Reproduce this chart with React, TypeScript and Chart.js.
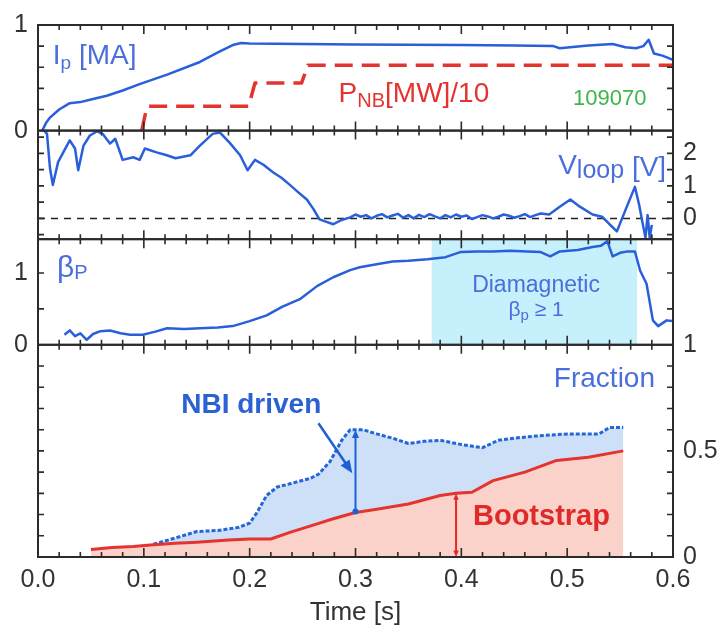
import { useEffect, useRef } from "react";
import { Chart, registerables } from "chart.js";

Chart.register(...registerables);

// ---------- data ----------
const xTickLabels = [0, 0.1, 0.2, 0.3, 0.4, 0.5, 0.6];

const ipTime = [0.004, 0.008, 0.011, 0.02, 0.03, 0.04, 0.052, 0.065, 0.08, 0.096, 0.122, 0.153, 0.17, 0.184, 0.192, 0.2, 0.25, 0.3, 0.35, 0.4, 0.45, 0.487, 0.493, 0.52, 0.543, 0.555, 0.565, 0.572, 0.577, 0.582, 0.59, 0.6];
const ipValue = [0, 0.08, 0.12, 0.2, 0.26, 0.27, 0.3, 0.33, 0.38, 0.44, 0.53, 0.65, 0.74, 0.81, 0.83, 0.825, 0.82, 0.815, 0.812, 0.81, 0.805, 0.8, 0.78, 0.805, 0.82, 0.79, 0.78, 0.8, 0.86, 0.73, 0.71, 0.67];

const pnbTime = [0.098, 0.103, 0.199, 0.205, 0.249, 0.255, 0.6];
const pnbValue = [0, 0.23, 0.23, 0.45, 0.45, 0.62, 0.62];

const vloopTime = [0.006, 0.0085, 0.0113, 0.014, 0.019, 0.025, 0.03, 0.035, 0.038, 0.043, 0.049, 0.056, 0.061, 0.068, 0.073, 0.08, 0.09, 0.096, 0.101, 0.112, 0.121, 0.13, 0.144, 0.153, 0.165, 0.172, 0.181, 0.191, 0.198, 0.205, 0.213, 0.222, 0.23, 0.238, 0.246, 0.254, 0.26, 0.266, 0.272, 0.279, 0.287, 0.295, 0.3, 0.305, 0.31, 0.315, 0.32, 0.325, 0.33, 0.335, 0.34, 0.345, 0.35, 0.355, 0.36, 0.365, 0.37, 0.375, 0.38, 0.385, 0.39, 0.395, 0.4, 0.405, 0.41, 0.415, 0.42, 0.425, 0.43, 0.435, 0.44, 0.445, 0.45, 0.455, 0.46, 0.465, 0.47, 0.475, 0.483, 0.493, 0.503, 0.512, 0.524, 0.533, 0.54, 0.547, 0.556, 0.564, 0.568, 0.571, 0.574, 0.576, 0.578, 0.58];
const vloopValue = [2.7, 2.6, 1.55, 1.03, 1.73, 2.1, 2.4, 2.15, 1.48, 2.24, 2.55, 2.68, 2.6, 2.3, 2.45, 1.8, 1.88, 1.8, 2.15, 2.03, 1.95, 1.85, 1.94, 2.24, 2.6, 2.64, 2.33, 1.94, 1.48, 1.8, 1.65, 1.42, 1.25, 1.03, 0.8, 0.58, 0.3, -0.03, -0.1, -0.18, -0.05, 0.03, 0.12, 0.05, 0.1, 0.0, 0.08, 0.13, 0.03, 0.09, 0.14, 0.02, 0.1, 0.0, 0.11, 0.04, 0.13, 0.06, 0.0, 0.1, 0.03, 0.12, 0.05, 0.09, -0.02, 0.04, 0.1, 0.06, 0.0, 0.05, 0.12, 0.08, 0.02, 0.07, 0.13, 0.04, 0.1, 0.15, 0.12, 0.36, 0.58, 0.36, 0.12, 0.05, -0.18, -0.4, 0.33, 0.97, 0.42, -0.1, -0.6, 0.1, -0.6, -0.2];

const zeroTime = [0, 0.6];
const zeroValue = [0, 0];

const betaTime = [0.025, 0.03, 0.035, 0.04, 0.046, 0.052, 0.059, 0.068, 0.078, 0.087, 0.099, 0.11, 0.122, 0.138, 0.153, 0.17, 0.184, 0.2, 0.216, 0.231, 0.248, 0.264, 0.279, 0.295, 0.304, 0.32, 0.335, 0.35, 0.368, 0.385, 0.399, 0.415, 0.43, 0.446, 0.462, 0.475, 0.484, 0.493, 0.51, 0.524, 0.532, 0.538, 0.543, 0.55, 0.557, 0.564, 0.569, 0.575, 0.581, 0.586, 0.594, 0.599];
const betaValue = [0.14, 0.2, 0.12, 0.16, 0.07, 0.15, 0.19, 0.2, 0.16, 0.14, 0.14, 0.18, 0.23, 0.22, 0.23, 0.24, 0.26, 0.33, 0.41, 0.53, 0.64, 0.82, 0.94, 1.04, 1.08, 1.12, 1.16, 1.17, 1.19, 1.22, 1.29, 1.3, 1.3, 1.31, 1.3, 1.29, 1.23, 1.3, 1.32, 1.36, 1.38, 1.44, 1.23, 1.28, 1.3, 1.3, 1.03, 0.85, 0.34, 0.26, 0.34, 0.33];

const bootTime = [0.05, 0.07, 0.09, 0.109, 0.13, 0.15, 0.18, 0.2, 0.22, 0.238, 0.26, 0.279, 0.3, 0.32, 0.35, 0.38, 0.395, 0.41, 0.43, 0.46, 0.49, 0.52, 0.553];
const bootValue = [0.035, 0.045, 0.05, 0.058, 0.065, 0.07, 0.08, 0.085, 0.085, 0.116, 0.15, 0.18, 0.21, 0.225, 0.25, 0.29, 0.3, 0.305, 0.36, 0.4, 0.455, 0.47, 0.5];

const nbiTime = [0.109, 0.13, 0.15, 0.17, 0.19, 0.2, 0.207, 0.216, 0.226, 0.238, 0.257, 0.265, 0.276, 0.287, 0.295, 0.307, 0.32, 0.335, 0.35, 0.365, 0.38, 0.4, 0.42, 0.435, 0.45, 0.47, 0.5, 0.53, 0.54, 0.553];
const nbiValue = [0.06, 0.09, 0.12, 0.125, 0.14, 0.16, 0.21, 0.29, 0.33, 0.345, 0.37, 0.39, 0.45, 0.55, 0.6, 0.6, 0.58, 0.56, 0.535, 0.545, 0.55, 0.53, 0.515, 0.55, 0.56, 0.57, 0.58, 0.58, 0.61, 0.61];

const diamagStart = 0.372;
const diamagEnd = 0.566;

// tick labels per panel
const p1LeftLabels = [0, 1];
const p3LeftLabels = [0, 1];
const p2RightLabels = [0, 1, 2];
const p4RightLabels = [0, 0.5, 1];
// inner tick marks per panel
const p1Marks = [0.2, 0.4, 0.6, 0.8];
const p2Marks = [-0.5, 0, 0.5, 1, 1.5, 2, 2.5];
const p3Marks = [0.5, 1];
const p4Marks = [0.1, 0.2, 0.3, 0.4, 0.5, 0.6, 0.7, 0.8, 0.9];

// ---------- styles ----------
const FONT = '"Liberation Sans", Arial, Helvetica, sans-serif';
const LINE_BLUE = "#2a5fdb";
const TEXT_BLUE = "#4a6fdc";
const RED = "#e3342f";
const FRAME = "#2b2b2b";
const LABEL = "#333333";

const pts = (t: number[], v: number[]) => t.map((x, i) => ({ x, y: v[i] }));

function yAxis(pos: string, stack: string, weight: number, stackWeight: number, min: number, max: number, labels: number[]) {
  return {
    type: "linear",
    axis: "y",
    position: pos,
    stack,
    stackWeight,
    weight,
    min,
    max,
    offset: false,
    grid: { display: false, drawTicks: false },
    border: { display: false },
    ticks: {
      display: labels.length > 0,
      autoSkip: false,
      font: { family: FONT, size: 25 },
      color: LABEL,
      padding: 10,
      callback: (v: number) => String(v),
    },
    afterBuildTicks: (s: any) => {
      s.ticks = labels.map((v) => ({ value: v }));
    },
    afterFit: (s: any) => {
      s.width = pos === "left" ? 38 : 52;
    },
  };
}

function richText(ctx: CanvasRenderingContext2D, parts: any[], x: number, y: number, align: string, color: string) {
  let w = 0;
  for (const p of parts) {
    ctx.font = `${p[3] || "normal"} ${p[1]}px ${FONT}`;
    w += ctx.measureText(p[0]).width;
  }
  let cx = align === "right" ? x - w : align === "center" ? x - w / 2 : x;
  ctx.fillStyle = color;
  ctx.textAlign = "left";
  ctx.textBaseline = "alphabetic";
  for (const p of parts) {
    ctx.font = `${p[3] || "normal"} ${p[1]}px ${FONT}`;
    ctx.fillText(p[0], cx, y + (p[2] || 0));
    cx += ctx.measureText(p[0]).width;
  }
}

function head(ctx: CanvasRenderingContext2D, x0: number, y0: number, x1: number, y1: number, size: number) {
  const a = Math.atan2(y1 - y0, x1 - x0);
  ctx.beginPath();
  ctx.moveTo(x1, y1);
  ctx.lineTo(x1 - size * Math.cos(a - 0.4), y1 - size * Math.sin(a - 0.4));
  ctx.lineTo(x1 - size * Math.cos(a + 0.4), y1 - size * Math.sin(a + 0.4));
  ctx.closePath();
  ctx.fill();
}

const decorPlugin = {
  id: "decor",
  beforeDatasetsDraw(chart: any) {
    const { ctx, scales } = chart;
    const x = scales.x;
    const y3 = scales.yL3;
    const x0 = x.getPixelForValue(diamagStart);
    const x1 = x.getPixelForValue(diamagEnd);
    ctx.save();
    ctx.fillStyle = "#c6f0fb";
    ctx.fillRect(x0, y3.top, x1 - x0, y3.bottom - y3.top);
    ctx.restore();
  },
  afterDatasetsDraw(chart: any) {
    const { ctx, scales, chartArea } = chart;
    const x = scales.x;
    const px = (t: number) => x.getPixelForValue(t);
    const y1 = scales.yL1, y2 = scales.yL2, y3 = scales.yL3, y4 = scales.yL4;
    ctx.save();

    // annotation texts
    richText(ctx, [["I", 28], ["p", 19, 5], [" [MA]", 28]], px(0.014), y1.getPixelForValue(0.626), "left", TEXT_BLUE);
    richText(ctx, [["P", 28], ["NB", 20, 5], ["[MW]/10", 28]], px(0.284), y1.getPixelForValue(0.27), "left", RED);
    richText(ctx, [["109070", 22]], px(0.5055), y1.getPixelForValue(0.243), "left", "#3cb54a");
    richText(ctx, [["V", 28, -2], ["loop", 25, 2], [" [V]", 28]], px(0.5935), y2.getPixelForValue(1.3), "right", TEXT_BLUE);
    richText(ctx, [["β", 30], ["P", 20, 2]], px(0.018), y3.getPixelForValue(0.945), "left", TEXT_BLUE);
    richText(ctx, [["Diamagnetic", 23]], px(0.4706), y3.getPixelForValue(0.74), "center", TEXT_BLUE);
    richText(ctx, [["β", 21], ["p", 15, 4], [" ≥ 1", 21]], px(0.4706), y3.getPixelForValue(0.4), "center", TEXT_BLUE);
    richText(ctx, [["Fraction", 28]], px(0.583), y4.getPixelForValue(0.8), "right", TEXT_BLUE);
    richText(ctx, [["NBI driven", 28, 0, "bold"]], px(0.2015), y4.getPixelForValue(0.68), "center", "#2a62d4");
    richText(ctx, [["Bootstrap", 29, 0, "bold"]], px(0.411), y4.getPixelForValue(0.149), "left", "#e02a2a");

    // arrows
    ctx.strokeStyle = "#1f5fd6";
    ctx.fillStyle = "#1f5fd6";
    ctx.lineWidth = 2.5;
    const ax0 = px(0.265), ay0 = y4.getPixelForValue(0.63);
    const ax1 = px(0.297), ay1 = y4.getPixelForValue(0.395);
    ctx.beginPath();
    ctx.moveTo(ax0, ay0);
    ctx.lineTo(ax1 - 6, ay1 - 9);
    ctx.stroke();
    head(ctx, ax0, ay0, ax1, ay1, 14);

    const vx = px(0.3), vt = y4.getPixelForValue(0.6), vb = y4.getPixelForValue(0.215);
    ctx.lineWidth = 2;
    ctx.beginPath();
    ctx.moveTo(vx, vt + 6);
    ctx.lineTo(vx, vb);
    ctx.stroke();
    head(ctx, vx, vb, vx, vt, 9);
    ctx.beginPath();
    ctx.arc(vx, vb, 3, 0, Math.PI * 2);
    ctx.fill();

    ctx.strokeStyle = "#e02a2a";
    ctx.fillStyle = "#e02a2a";
    const rx = px(0.395), rt = y4.getPixelForValue(0.3), rb = y4.getPixelForValue(0.0);
    ctx.beginPath();
    ctx.moveTo(rx, rt + 4);
    ctx.lineTo(rx, rb - 4);
    ctx.stroke();
    head(ctx, rx, rb, rx, rt, 7);
    head(ctx, rx, rt, rx, rb, 7);

    // frames and inward ticks
    const panels = [
      { s: y1, marks: p1Marks },
      { s: y2, marks: p2Marks },
      { s: y3, marks: p3Marks },
      { s: y4, marks: p4Marks },
    ];
    const L = chartArea.left, R = chartArea.right;
    ctx.strokeStyle = FRAME;
    ctx.lineWidth = 1.6;
    for (const p of panels) {
      const top = p.s.top, bot = p.s.bottom;
      for (let i = 0; i <= 30; i++) {
        const xx = px(i * 0.02);
        const len = i % 5 === 0 ? 9 : 5;
        ctx.beginPath();
        ctx.moveTo(xx, top);
        ctx.lineTo(xx, top + len);
        ctx.moveTo(xx, bot);
        ctx.lineTo(xx, bot - len);
        ctx.stroke();
      }
      for (const m of p.marks) {
        const yy = p.s.getPixelForValue(m);
        ctx.beginPath();
        ctx.moveTo(L, yy);
        ctx.lineTo(L + 6, yy);
        ctx.moveTo(R, yy);
        ctx.lineTo(R - 6, yy);
        ctx.stroke();
      }
    }
    ctx.lineWidth = 2;
    for (const p of panels) {
      ctx.strokeRect(L, p.s.top, R - L, p.s.bottom - p.s.top);
    }
    ctx.restore();
  },
};

export default function App() {
  const ref = useRef<HTMLCanvasElement>(null);
  useEffect(() => {
    const line = { pointRadius: 0, tension: 0, borderJoinStyle: "round", fill: false };
    const chart = new Chart(ref.current as HTMLCanvasElement, {
      type: "line",
      data: {
        datasets: [
          { ...line, data: pts(ipTime, ipValue), yAxisID: "yL1", borderColor: LINE_BLUE, borderWidth: 2.5 },
          { ...line, data: pts(pnbTime, pnbValue), yAxisID: "yL1", borderColor: RED, borderWidth: 3.5, borderDash: [18, 9] },
          { ...line, data: pts(vloopTime, vloopValue), yAxisID: "yL2", borderColor: LINE_BLUE, borderWidth: 2.5 },
          { ...line, data: pts(zeroTime, zeroValue), yAxisID: "yL2", borderColor: "#222", borderWidth: 1.5, borderDash: [7, 6] },
          { ...line, data: pts(betaTime, betaValue), yAxisID: "yL3", borderColor: LINE_BLUE, borderWidth: 2.5 },
          { ...line, data: pts(bootTime, bootValue), yAxisID: "yL4", borderColor: RED, borderWidth: 3, fill: "origin", backgroundColor: "#fbd2c9" },
          { ...line, data: pts(nbiTime, nbiValue), yAxisID: "yL4", borderColor: "#2366d8", borderWidth: 3, borderDash: [4, 2], fill: 5, backgroundColor: "#cde0f7" },
        ],
      } as any,
      options: {
        animation: false,
        responsive: false,
        maintainAspectRatio: false,
        layout: { padding: { top: 18, left: 0, right: 0, bottom: 0 } },
        plugins: { legend: { display: false }, tooltip: { enabled: false } },
        scales: {
          x: {
            type: "linear",
            position: "bottom",
            min: 0,
            max: 0.6,
            grid: { display: false, drawTicks: false },
            border: { display: false },
            ticks: {
              font: { family: FONT, size: 25 },
              color: LABEL,
              padding: 8,
              maxRotation: 0,
              autoSkip: false,
              callback: (v: any) => Number(v).toFixed(1),
            },
            afterBuildTicks: (s: any) => {
              s.ticks = xTickLabels.map((v) => ({ value: v }));
            },
            afterFit: (s: any) => {
              s.height = 73;
            },
            title: { display: true, text: "Time [s]", font: { family: FONT, size: 26 }, color: LABEL, padding: { top: 0, bottom: 2 } },
          },
          yL1: yAxis("left", "L", 4, 107, 0, 1, p1LeftLabels),
          yL2: yAxis("left", "L", 3, 110, -0.64, 2.7, []),
          yL3: yAxis("left", "L", 2, 107, 0, 1.47, p3LeftLabels),
          yL4: yAxis("left", "L", 1, 215, 0, 1, []),
          yR1: yAxis("right", "R", 1, 107, 0, 1, []),
          yR2: yAxis("right", "R", 2, 110, -0.64, 2.7, p2RightLabels),
          yR3: yAxis("right", "R", 3, 107, 0, 1.47, []),
          yR4: yAxis("right", "R", 4, 215, 0, 1, p4RightLabels),
        } as any,
      },
      plugins: [decorPlugin],
    } as any);
    return () => chart.destroy();
  }, []);
  return (
    <div style={{ position: "absolute", left: 0, top: 0, width: 725, height: 630, background: "#fff" }}>
      <canvas ref={ref} width={725} height={630} style={{ display: "block", width: 725, height: 630 }} />
    </div>
  );
}
